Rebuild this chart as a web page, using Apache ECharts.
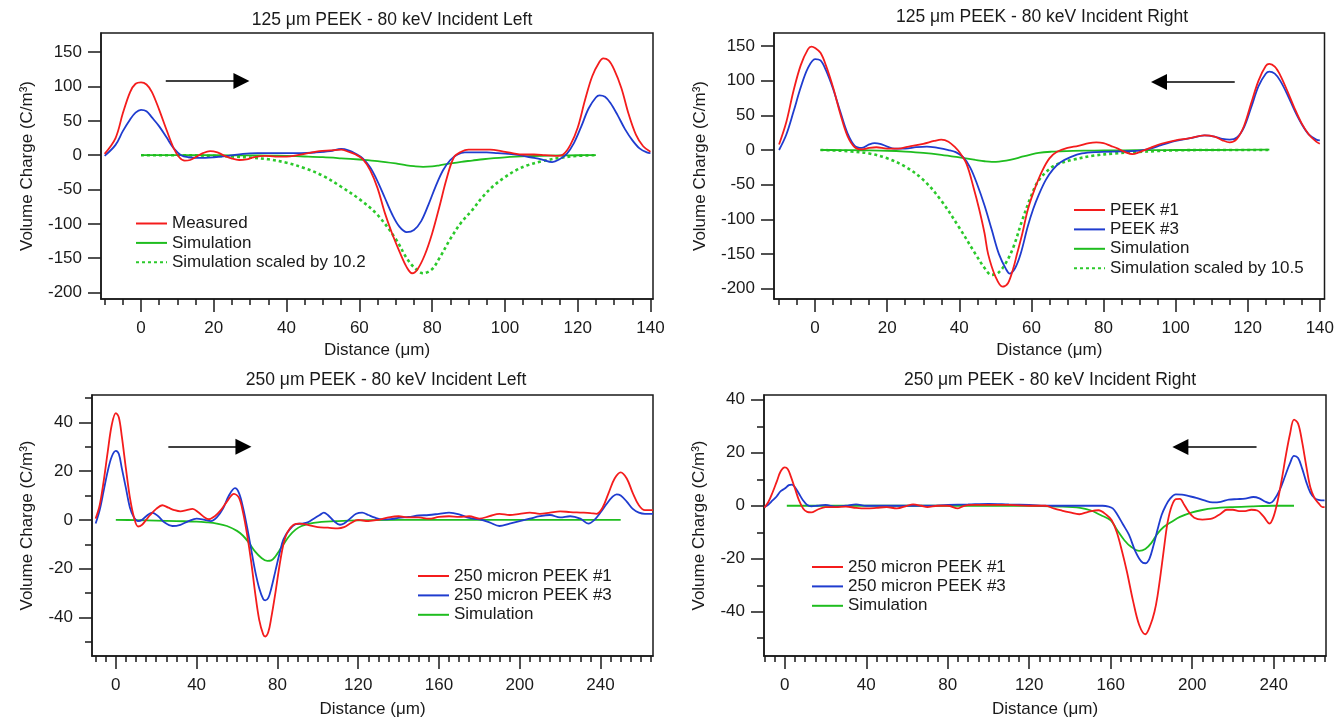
<!DOCTYPE html>
<html>
<head>
<meta charset="utf-8">
<script src="https://cdn.jsdelivr.net/npm/echarts@6/dist/echarts.min.js"></script>
<style>html,body{margin:0;padding:0;background:#fff}#c{width:1337px;height:719px}</style>
</head>
<body>
<div id="c"></div>
<script>
// ---------------- DATA ----------------
// Panel 1: 125 um PEEK - Incident Left
const p1Measured = [[-10,2],[-7,25],[-5,61],[-3,92],[-1.5,104],[0,106],[1.5,103],[3,92],[5,66],[7,37],[9,10],[10.5,-3],[12,-8],[13.5,-7],[15,-3],[17,3],[19,6],[21,4],[23,-1],[25,-5],[27,-7],[29,-6],[31,-3],[34,-1],[37,-2],[40,-2],[43,0],[46,3],[49,6],[52,7],[55,8],[57,5],[59,1],[61,-6],[63,-22],[65,-48],[67,-84],[69,-114],[71,-140],[73,-163],[74.5,-172],[76,-166],[78,-145],[80,-114],[82,-75],[84,-34],[86,-3],[88,5],[90,8],[93,8],[96,8],[99,6],[102,3],[105,1],[108,1],[111,0],[114,-1],[116,1],[118,15],[120,40],[122,80],[124,115],[126,136],[127,141],[128.5,138],[130,125],[132,98],[134,60],[136,30],[138,13],[140,5]];
const p1Blue = [[-10,-1],[-7,15],[-5,35],[-3,52],[-1.5,62],[0,66],[1.5,64],[3,55],[5,42],[7,26],[9,10],[11,0],[13,-3],[16,-4],[20,-3],[24,-1],[28,2],[32,3],[36,3],[40,3],[44,3],[48,4],[52,6],[55,9],[57,7],[59,2],[61,-5],[63,-18],[65,-38],[67,-62],[69,-86],[71,-104],[73,-112],[75,-109],[77,-96],[79,-72],[81,-45],[83,-22],[85,-7],[87,1],[89,4],[92,4],[95,4],[98,3],[101,2],[104,0],[107,-3],[110,-6],[113,-10],[115,-6],[117,2],[119,18],[121,42],[123,68],[125,84],[126,87],[127.5,85],[129,76],[131,58],[133,38],[135,22],[137,10],[139,4],[140,3]];
const p1Sim = [[0,0],[10,0],[20,-0.1],[30,-0.3],[35,-0.6],[40,-1.1],[45,-1.9],[50,-2.9],[55,-4.5],[60,-6.3],[65,-8.5],[70,-12],[73,-14.7],[75,-16],[77.5,-16.9],[80,-16.3],[82,-14.7],[85,-12],[88,-9.6],[91,-7.8],[94,-5.9],[97,-4.3],[100,-3.1],[103,-2.2],[106,-1.5],[110,-0.9],[115,-0.4],[120,-0.1],[125,0]];
const p1Scaled = [[0,0],[10,0],[20,-1],[25,-2],[30,-3.5],[35,-6],[40,-11],[45,-19],[50,-30],[55,-46],[60,-64],[65,-87],[70,-122],[73,-150],[75,-163],[77.5,-172],[80,-166],[82,-150],[85,-122],[88,-98],[91,-80],[94,-60],[97,-44],[100,-32],[103,-22],[106,-15],[110,-9],[115,-4],[120,-1],[125,0]];

// Panel 2: 125 um PEEK - Incident Right
const p2Peek1 = [[-10,8],[-8,40],[-6,85],[-4,122],[-2,145],[-1,149],[0,147],[1.5,140],[3,122],[5,90],[7,52],[9,20],[11,4],[13,1],[15,3],[17,4],[20,2],[23,2],[26,5],[30,9],[33,13],[35,15],[37,12],[39,3],[40,-3],[42,-20],[44,-55],[45.5,-85],[47,-120],[48,-150],[50,-182],[52,-197],[53.5,-192],[55,-170],[56,-150],[57.5,-120],[59,-86],[61,-55],[63,-30],[65,-12],[67,-3],[70,3],[73,6],[76,10],[78,11],[80,10],[82,6],[84,2],[86,-3],[88,-6],[90,-3],[93,3],[96,9],[100,14],[104,17],[108,21],[111,19],[113,14],[115,11],[117,16],[119,35],[121,68],[123,100],[125,121],[126,124],[127.5,120],[129,108],[131,85],[133,60],[135,38],[137,22],[139,12],[140,9]];
const p2Peek3 = [[-10,0],[-8,22],[-6,55],[-4,90],[-2,118],[0,131],[1.5,129],[3,115],[5,88],[7,55],[9,24],[11,6],[13,3],[15,8],[16.5,10],[18,9],[20,5],[22,2],[25,2],[28,4],[31,5],[34,3],[37,0],[39,-3],[41,-10],[43,-25],[45,-50],[47,-80],[49,-115],[51,-150],[53,-172],[54,-178],[55.5,-170],[57,-150],[59,-110],[60.5,-85],[62,-65],[64,-43],[66,-28],[68,-18],[71,-10],[74,-5],[78,-3],[85,-2],[90,-1],[93,2],[96,7],[100,13],[104,17],[108,21],[111,19],[113,16],[115,15],[117,18],[119,33],[121,62],[123,92],[125,110],[126,113],[127.5,110],[129,100],[131,80],[133,57],[135,37],[137,22],[139,15],[140,14]];
const p2Sim = [[1.5,0],[5,0],[10,-0.2],[15,-0.5],[20,-1.1],[25,-2.3],[30,-4.1],[35,-7],[40,-10.7],[44.5,-14.3],[47,-16.2],[49,-17.1],[51,-16.8],[53,-15.4],[55,-13.3],[57.4,-9.7],[59.8,-6.5],[62,-4.2],[65.6,-2.4],[68,-1.8],[71.5,-1.3],[77.4,-0.8],[83,-0.5],[89,-0.3],[95,-0.1],[100,0],[110,0],[126,0.5]];
const p2Scaled = [[1.5,0],[5,-0.5],[10,-2],[15,-5],[20,-12],[25,-24],[30,-43],[35,-73],[40,-112],[44.5,-150],[47,-170],[49,-180],[51,-176],[53,-162],[55,-140],[57.4,-102],[59.8,-68],[62,-44],[65.6,-25],[68,-19],[71.5,-14],[77.4,-8],[83,-5],[89,-3],[95,-1.5],[100,-0.5],[110,0],[126,0]];

// Panel 3: 250 um PEEK - Incident Left
const p3Peek1 = [[-10,0.5],[-8,6],[-6,16],[-4,28],[-2,39],[0,43.8],[1.5,42],[3,34],[5,21],[7,9],[9,1],[11,-2.7],[13,-2],[15,0],[17,2],[20,4.5],[23,6],[26,5],[29,4],[32,3.5],[35,4],[38,4.5],[41,3],[44,1],[46,0.3],[49,1.5],[52,4],[55,7.5],[58.5,10.7],[61,9],[63,3],[65,-6],[67,-17],[69,-30],[71,-41],[73,-47],[74,-47.8],[75.5,-46],[77,-40],[79,-30],[81,-19],[83,-10],[85,-5],[88,-2],[91,-1.5],[95,-2],[100,-3],[105,-3.2],[110,-3.5],[113,-3],[116,-1.5],[120,0],[125,-0.5],[130,0],[135,1],[140,1.5],[145,1],[150,1],[155,0.5],[160,1.2],[165,1.5],[170,1.2],[175,1.5],[180,0.5],[185,1.5],[190,2.5],[195,2],[200,2.5],[205,3],[210,2.5],[215,3],[220,3.5],[225,3.2],[230,3],[235,2.8],[238,2.5],[241,5],[244,11],[247,17],[250,19.5],[253,17],[256,11],[259,6],[262,4],[266,4]];
const p3Peek3 = [[-10,-1.5],[-8,4],[-6,12],[-4,20],[-2,26],[0,28.3],[1.5,27],[3,21],[5,13],[7,5],[9,1],[11,-0.5],[13,0],[15,1.5],[18,3],[21,1.5],[24,-1],[28,-2.5],[32,-2],[36,-0.5],[40,0.5],[44,0],[47,-0.5],[50,1],[53,4.5],[56,10],[59,13],[61,11],[63,5],[65,-3],[67,-12],[69,-21],[71,-28],[73,-32.5],[74,-33],[75.5,-32],[77,-28],[79,-21],[81,-14],[83,-8],[86,-4],[89,-1.8],[92,-1.5],[95,-1],[98,0.5],[101,2],[103,3],[105,2],[108,-0.5],[111,-2],[113,-1.5],[116,0.5],[119,2.5],[122,3],[125,2],[128,1],[132,0.2],[136,0.3],[140,0.8],[145,1.2],[150,1.8],[155,2],[160,2.5],[165,3],[170,2.3],[175,0.8],[180,0.2],[185,-1],[190,-2.5],[195,-1.5],[200,-0.5],[205,0.5],[210,1.5],[215,2],[220,1],[225,1.5],[230,0.5],[234,-1.5],[237,0],[240,3],[243,6.5],[246,9.5],[248,10.5],[250,10],[253,7.5],[256,4.5],[259,3],[262,2.5],[266,2.5]];
const p3Sim = [[0,0],[10,-0.1],[20,-0.3],[30,-0.5],[40,-0.7],[45,-1],[50,-1.5],[55,-2.5],[60,-4.5],[63,-6.5],[66,-9.5],[69,-13],[72,-15.5],[75,-16.8],[77,-16.6],[79,-15],[81,-12.5],[83,-10],[86,-6.5],[89,-4],[92,-2.5],[96,-1.5],[100,-1],[110,-0.5],[120,-0.2],[140,0],[250,0]];

// Panel 4: 250 um PEEK - Incident Right
const p4Peek1 = [[-10,-0.7],[-8,1.5],[-6,5],[-4,9],[-2,13],[0,14.5],[1.5,13.8],[3,11],[5,6.5],[7,2],[9,-1],[11,-2.3],[13,-2.5],[16,-1.5],[20,-0.5],[25,-0.5],[30,-0.3],[35,-0.8],[40,-1],[45,-0.8],[50,-0.5],[55,-1],[60,0],[63,0.5],[67,0],[70,-0.5],[75,0],[80,0],[85,-1],[88,0],[92,0.3],[100,0.3],[110,0.3],[120,0],[128,0],[132,-1],[136,-1.8],[140,-2.5],[144.6,-3.2],[149,-2.3],[154,-1.7],[158,-3.5],[160.5,-5.5],[163,-10],[165.5,-17],[168,-25],[171,-36],[174,-45],[177,-48.5],[179.5,-45],[181.5,-40],[183,-34],[185,-23],[186.5,-14],[188,-6],[190,0],[192,2.5],[194,2.6],[196,0.5],[198,-2],[201,-4.5],[205,-5.2],[210,-4.8],[214,-3],[217,-1.5],[220,-1.5],[223,-2],[226,-2],[229,-1.5],[232,-1.8],[235,-4],[238,-6.7],[240,-4],[242,2],[244,10],[246,19],[248,27],[250,32.5],[252,31],[254,24],[256,15],[258,7],[260,3],[262,1],[264,-0.5],[265,-0.5]];
const p4Peek3 = [[-10,-0.5],[-8,0.5],[-6,2],[-4,3.5],[-2,5.5],[0,6.5],[2,7.8],[3.5,8],[5,7],[7,4.5],[9,2],[11,0.3],[13,-0.2],[16,0],[20,0.3],[25,-0.3],[30,0],[35,0.5],[40,0],[50,0],[60,0],[70,0],[80,0.3],[90,0.5],[100,0.7],[110,0.5],[120,0.3],[130,0],[140,0],[150,0],[156,0],[159,-0.3],[161,-1],[163,-3],[166,-7],[169,-11],[172,-17],[175,-21],[177,-21.7],[179,-20],[181,-15],[183,-9],[185,-3.5],[187,0],[189,2.5],[192,4.3],[195,4.2],[198,3.7],[202,3],[206,2],[210,1.3],[214,1.5],[218,2.3],[222,2.5],[226,2.7],[230,3.3],[233,2.8],[236,1.5],[238,1],[240,2],[243,6],[246,12],[248,16],[250,18.8],[252,18],[254,14],[256,9],[258,5],[260,3],[262,2.2],[265,2]];
const p4Sim = [[1,0],[20,0],[50,0],[80,0],[100,0],[120,0],[135,-0.3],[145,-0.8],[150,-1.7],[155,-3.5],[160,-5.5],[163,-9],[166.7,-13],[170,-15.5],[174,-17],[177,-16.3],[180,-14],[183,-10.5],[186,-8],[190,-6],[194,-4.2],[200,-2.5],[205,-1.6],[210,-1],[220,-0.5],[230,-0.2],[240,0],[250,0]];

// Tick labels
const p1XLabels = [0,20,40,60,80,100,120,140];
const p1YLabels = [-200,-150,-100,-50,0,50,100,150];
const p2XLabels = [0,20,40,60,80,100,120,140];
const p2YLabels = [-200,-150,-100,-50,0,50,100,150];
const p3XLabels = [0,40,80,120,160,200,240];
const p3YLabels = [-40,-20,0,20,40];
const p4XLabels = [0,40,80,120,160,200,240];
const p4YLabels = [-40,-20,0,20,40];

// Axis extents
const p1XRange = [-11, 140.7], p1YRange = [-209.5, 178];
const p2XRange = [-11.4, 141.3], p2YRange = [-214.7, 168.6];
const p3XRange = [-11.8, 266], p3YRange = [-55.8, 51.2];
const p4XRange = [-10.2, 265.7], p4YRange = [-56.7, 41.8];

// Direction arrows (data coords): [tailX, headCentreX, y]
const p1Arrow = [6.8, 27.6, 108];
const p2Arrow = [116.4, 95.4, 98];
const p3Arrow = [26, 63.2, 30];
const p4Arrow = [231.6, 194.2, 22.2];

// ---------------- STYLE / LAYOUT ----------------
const FONT = '"Liberation Sans", Arial, Helvetica, sans-serif';
const INK = '#1a1a1a';
const RED = '#f41c1c', BLUE = '#1f3ccf', GREEN = '#1fbd1f', GREEN2 = '#2bc92b';

function minorTicks(range, step, majorStep) {
  const out = [];
  const start = Math.ceil(range[0] / step) * step;
  for (let v = start; v <= range[1] + 1e-9; v += step) {
    if (Math.abs(v / majorStep - Math.round(v / majorStep)) > 1e-9) out.push(v);
  }
  return out;
}

const panels = [
  { title: '125 \u03bcm PEEK - 80 keV Incident Left', tx: 392, ty: 11,
    grid: {left: 101, top: 33, width: 552, height: 266},
    xr: p1XRange, yr: p1YRange, xl: p1XLabels, yl: p1YLabels,
    xMinor: minorTicks(p1XRange, 5, 20), yMinor: [], yGap: 65, xGap: 43,
    legend: {left: 135, top: 215}, arrow: p1Arrow,
    legendNames: ['Measured', 'Simulation', 'Simulation scaled by 10.2'],
    series: [
      {name: 'Measured', data: p1Measured, color: RED},
      {name: 'Measured (2)', data: p1Blue, color: BLUE},
      {name: 'Simulation', data: p1Sim, color: GREEN},
      {name: 'Simulation scaled by 10.2', data: p1Scaled, color: GREEN2, dotted: true}
    ] },
  { title: '125 \u03bcm PEEK - 80 keV Incident Right', tx: 1042, ty: 8,
    grid: {left: 774, top: 33, width: 552, height: 266},
    xr: p2XRange, yr: p2YRange, xl: p2XLabels, yl: p2YLabels,
    xMinor: minorTicks(p2XRange, 5, 20), yMinor: [], yGap: 65, xGap: 43,
    legend: {left: 1073, top: 201.5}, arrow: p2Arrow,
    legendNames: ['PEEK #1', 'PEEK #3', 'Simulation', 'Simulation scaled by 10.5'],
    series: [
      {name: 'PEEK #1', data: p2Peek1, color: RED},
      {name: 'PEEK #3', data: p2Peek3, color: BLUE},
      {name: 'Simulation', data: p2Sim, color: GREEN},
      {name: 'Simulation scaled by 10.5', data: p2Scaled, color: GREEN2, dotted: true}
    ] },
  { title: '250 \u03bcm PEEK - 80 keV Incident Left', tx: 386, ty: 371,
    grid: {left: 92, top: 395, width: 561, height: 264},
    xr: p3XRange, yr: p3YRange, xl: p3XLabels, yl: p3YLabels,
    xMinor: minorTicks(p3XRange, 5, 40), yMinor: minorTicks(p3YRange, 10, 20), yGap: 56, xGap: 45,
    legend: {left: 417, top: 567.5}, arrow: p3Arrow,
    legendNames: ['250 micron PEEK #1', '250 micron PEEK #3', 'Simulation'],
    series: [
      {name: '250 micron PEEK #1', data: p3Peek1, color: RED},
      {name: '250 micron PEEK #3', data: p3Peek3, color: BLUE},
      {name: 'Simulation', data: p3Sim, color: GREEN}
    ] },
  { title: '250 \u03bcm PEEK - 80 keV Incident Right', tx: 1050, ty: 371,
    grid: {left: 764, top: 395, width: 562, height: 264},
    xr: p4XRange, yr: p4YRange, xl: p4XLabels, yl: p4YLabels,
    xMinor: minorTicks(p4XRange, 5, 40), yMinor: minorTicks(p4YRange, 10, 20), yGap: 56, xGap: 45,
    legend: {left: 811, top: 558.5}, arrow: p4Arrow,
    legendNames: ['250 micron PEEK #1', '250 micron PEEK #3', 'Simulation'],
    series: [
      {name: '250 micron PEEK #1', data: p4Peek1, color: RED},
      {name: '250 micron PEEK #3', data: p4Peek3, color: BLUE},
      {name: 'Simulation', data: p4Sim, color: GREEN}
    ] }
];

// ---------------- BUILD OPTION ----------------
const option = {
  animation: false,
  backgroundColor: '#ffffff',
  textStyle: {fontFamily: FONT},
  title: [], grid: [], xAxis: [], yAxis: [], legend: [], series: []
};

const axisLine = {show: true, onZero: false, lineStyle: {color: INK, width: 1.5}};
const lbl = {color: INK, fontSize: 17, fontFamily: FONT};

panels.forEach((p, i) => {
  option.title.push({text: p.title, left: p.tx, top: p.ty, textAlign: 'center', padding: 0,
    textStyle: {fontSize: 17.5, fontWeight: 'normal', color: INK, fontFamily: FONT}});
  option.grid.push(Object.assign({show: true, borderColor: INK, borderWidth: 1.5, backgroundColor: 'transparent'}, p.grid));

  // major x axis
  option.xAxis.push({type: 'value', gridIndex: i, position: 'bottom', min: p.xr[0], max: p.xr[1],
    axisLine: axisLine, splitLine: {show: false},
    axisTick: {show: true, length: 13, lineStyle: {color: INK, width: 1.5}, customValues: p.xl},
    axisLabel: Object.assign({margin: 21, customValues: p.xl}, lbl),
    name: 'Distance (\u03bcm)', nameLocation: 'middle', nameGap: p.xGap,
    nameTextStyle: {fontSize: 17, color: INK, fontFamily: FONT}});
  // minor x axis
  option.xAxis.push({type: 'value', gridIndex: i, position: 'bottom', min: p.xr[0], max: p.xr[1],
    axisLine: {show: false, onZero: false}, splitLine: {show: false}, axisLabel: {show: false},
    axisTick: {show: true, length: 6, lineStyle: {color: INK, width: 1.5}, customValues: p.xMinor}});
  // major y axis
  option.yAxis.push({type: 'value', gridIndex: i, position: 'left', min: p.yr[0], max: p.yr[1],
    axisLine: axisLine, splitLine: {show: false},
    axisTick: {show: true, length: 13, lineStyle: {color: INK, width: 1.5}, customValues: p.yl},
    axisLabel: Object.assign({margin: 19, customValues: p.yl}, lbl),
    name: 'Volume Charge (C/m\u00b3)', nameLocation: 'middle', nameGap: p.yGap,
    nameTextStyle: {fontSize: 17, color: INK, fontFamily: FONT}});
  // minor y axis
  option.yAxis.push({type: 'value', gridIndex: i, position: 'left', min: p.yr[0], max: p.yr[1],
    axisLine: {show: false, onZero: false}, splitLine: {show: false}, axisLabel: {show: false},
    axisTick: {show: p.yMinor.length > 0, length: 7, lineStyle: {color: INK, width: 1.5},
      customValues: p.yMinor.length ? p.yMinor : [0]}});

  option.legend.push({orient: 'vertical', left: p.legend.left, top: p.legend.top,
    itemWidth: 31, itemHeight: 14, itemGap: 2.4, selectedMode: false, padding: 0,
    itemStyle: {opacity: 0},
    textStyle: {fontSize: 17, lineHeight: 17, color: INK, fontFamily: FONT},
    data: p.legendNames});

  p.series.forEach((s, k) => {
    const ser = {type: 'line', name: s.name, data: s.data,
      xAxisIndex: 2 * i, yAxisIndex: 2 * i,
      showSymbol: false, symbol: 'none', smooth: 0.35, clip: true,
      z: 10 - k,
      lineStyle: {color: s.color, width: s.dotted ? 2.6 : 1.8, type: s.dotted ? [3, 3] : 'solid'},
      itemStyle: {color: s.color}};
    if (k === 0) {
      ser.markLine = {silent: true, animation: false, symbol: ['none', 'triangle'], symbolSize: 16,
        label: {show: false},
        lineStyle: {color: '#000', width: 1.6, type: 'solid'},
        emphasis: {disabled: true},
        data: [[{coord: [p.arrow[0], p.arrow[2]]}, {coord: [p.arrow[1], p.arrow[2]]}]]};
    }
    option.series.push(ser);
  });
});

const chart = echarts.init(document.getElementById('c'), null, {renderer: 'canvas'});
chart.setOption(option);
</script>
</body>
</html>
